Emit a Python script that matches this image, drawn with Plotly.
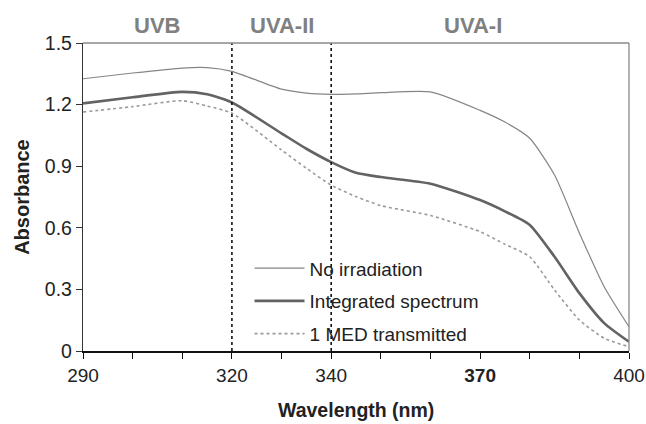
import plotly.graph_objects as go

# Wavelength grid (nm) and absorbance readings for each condition
wavelength = [290, 300, 310, 315, 320, 330, 335, 340, 345, 350, 360, 370, 375, 380, 385, 390, 395, 400]
no_irradiation = [1.326, 1.354, 1.378, 1.38, 1.362, 1.275, 1.256, 1.25, 1.252, 1.258, 1.262, 1.172, 1.115, 1.036,
                  0.857, 0.575, 0.313, 0.118]
integrated = [1.206, 1.236, 1.262, 1.25, 1.21, 1.06, 0.985, 0.92, 0.868, 0.847, 0.815, 0.735, 0.68, 0.614,
              0.459, 0.282, 0.136, 0.045]
med_transmitted = [1.164, 1.19, 1.219, 1.193, 1.158, 0.979, 0.89, 0.808, 0.752, 0.708, 0.66, 0.581, 0.52, 0.459,
                   0.297, 0.151, 0.062, 0.021]

series_names = ["No irradiation", "Integrated spectrum", "1 MED transmitted"]

x_tick_vals = list(range(290, 401, 10))
x_tick_text = ["290", "", "", "320", "", "340", "", "", "<b>370</b>", "", "", "400"]
y_tick_vals = [0, 0.3, 0.6, 0.9, 1.2, 1.5]
y_tick_text = ["0", "0.3", "0.6", "0.9", "1.2", "1.5"]

band_edges = [320, 340]
band_labels = ["UVB", "UVA-II", "UVA-I"]
band_label_x = [305, 330, 368.5]

FONT = "Liberation Sans, Arial, sans-serif"

fig = go.Figure()
styles = [
    dict(color="#858585", width=1.2),
    dict(color="#636363", width=2.6),
    dict(color="#9a9a9a", width=1.6, dash="dot"),
]
for i, (name, ys, st) in enumerate(zip(series_names, [no_irradiation, integrated, med_transmitted], styles)):
    fig.add_trace(go.Scatter(
        x=wavelength, y=ys, name=name, mode="lines",
        line=dict(shape="spline", smoothing=0.6, **st),
        legendgroup=f"g{i}",
    ))

# Dotted boundaries between UV bands
for xe in band_edges:
    fig.add_shape(type="line", x0=xe, x1=xe, y0=0, y1=1.5, xref="x", yref="y",
                  line=dict(color="#111111", width=1.6, dash="dot"), layer="above")

# Light frame on the top and right of the plotting area
fig.add_shape(type="line", x0=0, x1=1, y0=1, y1=1, xref="paper", yref="paper",
              line=dict(color="#8a8a8a", width=1.3))
fig.add_shape(type="line", x0=1, x1=1, y0=0, y1=1, xref="paper", yref="paper",
              line=dict(color="#8a8a8a", width=1.3))

for lbl, lx in zip(band_labels, band_label_x):
    fig.add_annotation(x=lx, y=1.058, xref="x", yref="paper", text=f"<b>{lbl}</b>",
                       showarrow=False, font=dict(family=FONT, size=22, color="#808080"),
                       yanchor="middle")

# Axis titles
fig.add_annotation(x=0.5, y=-0.19, xref="paper", yref="paper", text="<b>Wavelength (nm)</b>",
                   showarrow=False, font=dict(family=FONT, size=19.5, color="#222222"),
                   xanchor="center", yanchor="middle")
fig.add_annotation(x=-0.112, y=0.5, xref="paper", yref="paper", text="<b>Absorbance</b>",
                   showarrow=False, textangle=-90, font=dict(family=FONT, size=20, color="#222222"),
                   xanchor="center", yanchor="middle")

fig.update_layout(
    width=646, height=424,
    margin=dict(l=83, r=17, t=43, b=73),
    paper_bgcolor="white", plot_bgcolor="white",
    font=dict(family=FONT, size=18, color="#222222"),
    showlegend=True,
    legend=dict(x=0.305, y=0.33, xanchor="left", yanchor="top",
                bgcolor="rgba(0,0,0,0)", font=dict(size=19, color="#222222"),
                itemwidth=50, tracegroupgap=5, traceorder="grouped"),
    xaxis=dict(range=[290, 400], tickvals=x_tick_vals, ticktext=x_tick_text, automargin=False,
               showgrid=False, zeroline=False, showline=True, linecolor="#111111", linewidth=1.6,
               ticks="outside", ticklen=6, tickcolor="#111111", tickwidth=1.4,
               tickfont=dict(size=19, color="#222222")),
    yaxis=dict(range=[0, 1.5], tickvals=y_tick_vals, ticktext=y_tick_text, automargin=False,
               showgrid=False, zeroline=False, showline=True, linecolor="#333333", linewidth=1.4,
               ticks="outside", ticklen=6, tickcolor="#333333", tickwidth=1.4,
               tickfont=dict(size=19.5, color="#222222")),
)

fig.write_html("out.html")
